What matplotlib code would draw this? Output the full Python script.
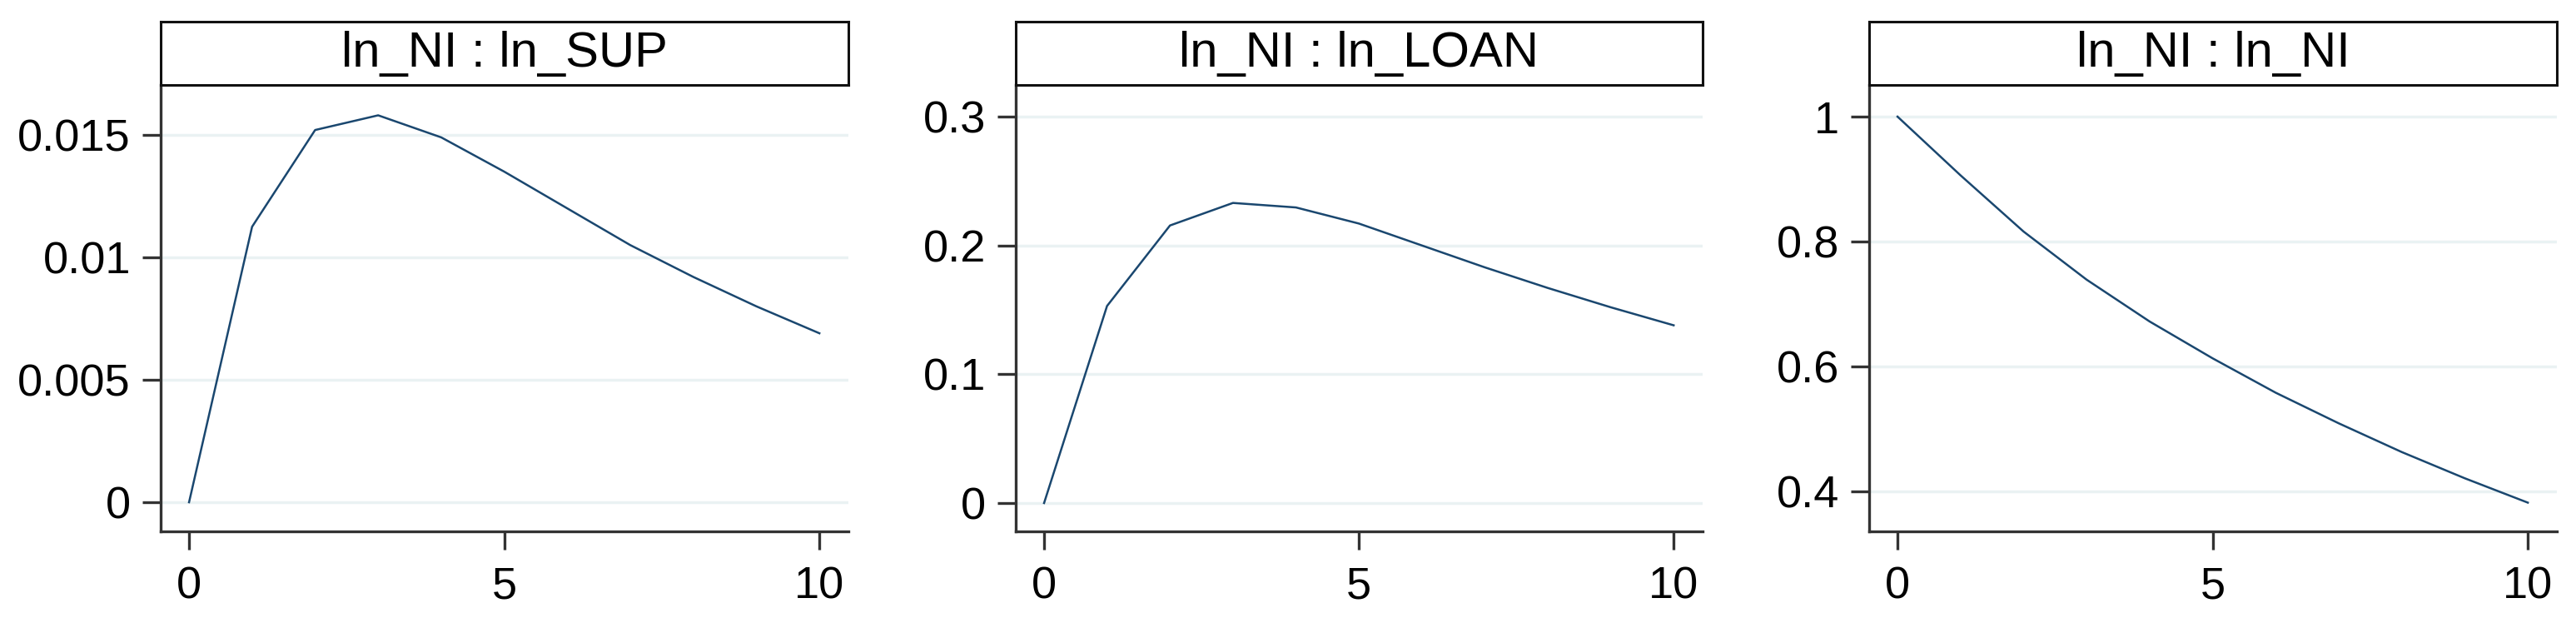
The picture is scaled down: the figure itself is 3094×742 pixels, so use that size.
import matplotlib
matplotlib.use("Agg")
import matplotlib.pyplot as plt

plt.rcParams['font.family'] = ['Liberation Sans', 'DejaVu Sans']

steps = [0, 1, 2, 3, 4, 5, 6, 7, 8, 9, 10]
titles = ["ln_NI : ln_SUP", "ln_NI : ln_LOAN", "ln_NI : ln_NI"]
irf_sup = [0.0, 0.01125, 0.0152, 0.0158, 0.0149, 0.0135, 0.0120, 0.0105, 0.0092, 0.0080, 0.0069]
irf_loan = [0.0, 0.153, 0.2155, 0.233, 0.2295, 0.217, 0.200, 0.183, 0.167, 0.152, 0.138]
irf_ni = [1.0, 0.906, 0.816, 0.739, 0.672, 0.613, 0.558, 0.509, 0.463, 0.421, 0.382]
yticks_list = [[0, 0.005, 0.01, 0.015], [0, 0.1, 0.2, 0.3], [0.4, 0.6, 0.8, 1.0]]
ytick_labels = [["0", "0.005", "0.01", "0.015"], ["0", "0.1", "0.2", "0.3"], ["0.4", "0.6", "0.8", "1"]]
ylims = [(-0.00119, 0.01704), (-0.022, 0.3246), (0.336, 1.0507)]
xticks = [0, 5, 10]

W, H = 3094, 742
fig = plt.figure(figsize=(W / 100, H / 100), dpi=100)

lefts = [193, 1220, 2245]
rights = [1019, 2045, 3071]
ax_top, ax_bot = 102, 638
box_top = 26

series = [irf_sup, irf_loan, irf_ni]
line_color = '#1a476f'
spine_color = '#333333'

for i in range(3):
    l, r = lefts[i], rights[i]
    ax = fig.add_axes([l / W, (H - ax_bot) / H, (r - l) / W, (ax_bot - ax_top) / H])
    ax.plot(steps, series[i], color=line_color, lw=1.8, zorder=3)
    ax.set_xlim(-0.45, 10.46)
    ax.set_ylim(*ylims[i])
    ax.set_xticks(xticks)
    ax.set_xticklabels([str(t) for t in xticks])
    ax.set_yticks(yticks_list[i])
    ax.set_yticklabels(ytick_labels[i])
    ax.grid(axis='y', color='#eaf2f3', lw=2.5, zorder=0)
    ax.grid(axis='x', visible=False)
    for s in ['top', 'right']:
        ax.spines[s].set_visible(False)
    for s in ['left', 'bottom']:
        ax.spines[s].set_color(spine_color)
        ax.spines[s].set_linewidth(2.4)
    ax.tick_params(axis='both', colors=spine_color, width=2.4, length=16,
                   labelsize=39, labelcolor='black')
    ax.tick_params(axis='y', pad=10)
    ax.tick_params(axis='x', pad=14)

    # title strip
    tb = fig.add_axes([l / W, (H - ax_top) / H, (r - l) / W, (ax_top - box_top) / H])
    tb.set_xticks([])
    tb.set_yticks([])
    for s in tb.spines.values():
        s.set_color('#111111')
        s.set_linewidth(2.2)
    tb.text(0.5, 0.5, titles[i], ha='center', va='center', fontsize=43,
            transform=tb.transAxes, color='black')

fig.savefig("out.png", dpi=100, facecolor='white')
